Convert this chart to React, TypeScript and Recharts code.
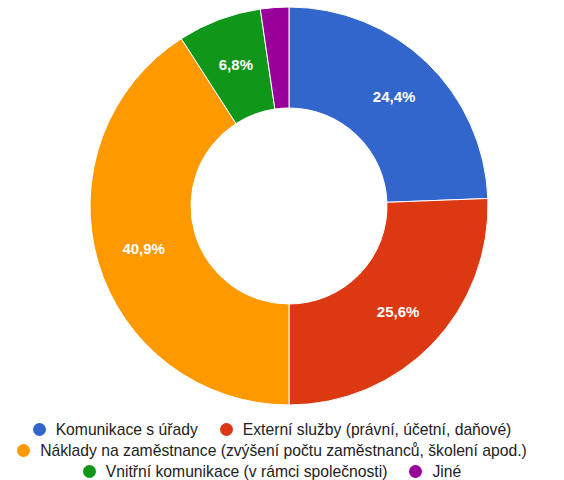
import React from 'react';
import { PieChart, Pie, Cell, Legend } from 'recharts';

const CATEGORIES = [
  'Komunikace s úřady',
  'Externí služby (právní, účetní, daňové)',
  'Náklady na zaměstnance (zvýšení počtu zaměstnanců, školení apod.)',
  'Vnitřní komunikace (v rámci společnosti)',
  'Jiné',
];
const SHARES = [24.4, 25.6, 40.9, 6.8, 2.3];
const COLORS = ['#3366cc', '#dc3912', '#ff9900', '#109618', '#990099'];
const LEGEND_ROWS = [[0, 1], [2], [3, 4]];

const data = CATEGORIES.map((name, i) => ({ name, value: SHARES[i] }));

const RAD = Math.PI / 180;
const FONT = "'Liberation Sans', Arial, sans-serif";

const renderLabel = ({ cx, cy, midAngle, innerRadius, outerRadius, percent }: any) => {
  if (percent < 0.05) return null;
  const r = (innerRadius + outerRadius) / 2 + 3;
  const x = cx + r * Math.cos(-midAngle * RAD);
  const y = cy + r * Math.sin(-midAngle * RAD);
  return (
    <text x={x} y={y} fill="#fff" fontSize={15} fontWeight="bold" textAnchor="middle" dominantBaseline="central"
      fontFamily={FONT}>
      {`${(percent * 100).toFixed(1).replace('.', ',')}%`}
    </text>
  );
};

const CustomLegend = ({ payload }: any) => {
  if (!payload) return null;
  return (
    <div style={{ fontFamily: FONT, fontSize: 15.7, color: '#222' }}>
      {LEGEND_ROWS.map((row, ri) => (
        <div key={ri} style={{ display: 'flex', justifyContent: 'center', height: 21, alignItems: 'center', whiteSpace: 'nowrap' }}>
          {row.map((idx, k) => {
            const p = payload[idx];
            if (!p) return null;
            return (
              <span key={idx} style={{ display: 'inline-flex', alignItems: 'center', marginLeft: k > 0 ? 22 : 0 }}>
                <span style={{ width: 13, height: 13, borderRadius: '50%', background: COLORS[idx], display: 'inline-block', marginRight: 10 }} />
                {CATEGORIES[idx]}
              </span>
            );
          })}
        </div>
      ))}
    </div>
  );
};

export default function App() {
  return (
    <div style={{ position: 'absolute', left: 0, top: 0, width: 564, height: 480, background: '#fff', overflow: 'hidden' }}>
      <PieChart width={564} height={480} margin={{ top: 0, right: 0, bottom: 0, left: 0 }}>
        <Pie
          data={data}
          dataKey="value"
          nameKey="name"
          cx={289}
          cy={206}
          innerRadius={98}
          outerRadius={199}
          startAngle={90}
          endAngle={-270}
          stroke="#fff"
          strokeWidth={1}
          labelLine={false}
          label={renderLabel}
          isAnimationActive={false}
        >
          {data.map((d, i) => <Cell key={d.name} fill={COLORS[i]} />)}
        </Pie>
        <Legend content={<CustomLegend />} wrapperStyle={{ position: 'absolute', top: 419, left: -10, width: 564 }} />
      </PieChart>
    </div>
  );
}
